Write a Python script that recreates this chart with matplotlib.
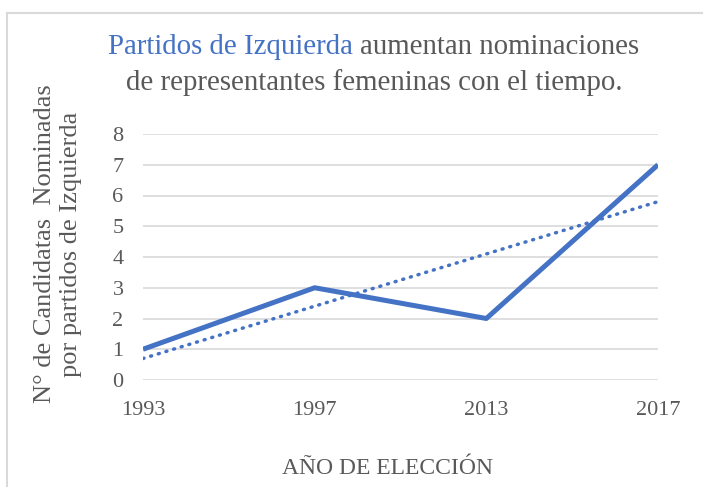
import matplotlib.pyplot as plt
from matplotlib.lines import Line2D

years = ["1993", "1997", "2013", "2017"]
candidatas = [1, 3, 2, 7]
# linear trendline (start and end values)
trend_start = 0.7
trend_end = 5.8

blue = "#4472C4"
grey = "#595959"
W, H = 703, 487

plt.rcParams['font.family'] = ['Liberation Serif', 'DejaVu Serif']

fig = plt.figure(figsize=(W / 100, H / 100), dpi=100)
ax = fig.add_axes([143 / W, 1 - 380 / H, (658 - 143) / W, (380 - 134) / H])

x = list(range(len(years)))
ax.plot(x, candidatas, color=blue, linewidth=3.6, solid_capstyle="butt", zorder=3)
ax.plot([x[0], x[-1]], [trend_start, trend_end], color=blue, linewidth=2.5,
        linestyle=(0, (0.3, 2.0)), dash_capstyle="round", zorder=3)

ax.set_xlim(0, 3)
ax.set_ylim(0, 8)
ax.set_yticks(range(0, 9))
ax.set_xticks(x)
ax.set_xticklabels(years)
ax.grid(axis="y", color="#D9D9D9", linewidth=1.2)
ax.set_axisbelow(True)
for s in ax.spines.values():
    s.set_visible(False)
ax.tick_params(length=0, labelsize=16, colors=grey)
ax.tick_params(axis="y", pad=14)
ax.tick_params(axis="x", pad=15)

fig.text(388 / W, 1 - 469 / H, "AÑO DE ELECCIÓN", fontsize=17, color=grey,
         ha="center", va="center")
fig.text(58 / W, 1 - 244 / H, "N° de Candidatas  Nominadas\npor partidos de Izquierda",
         rotation=90, ha="center", va="center", fontsize=19, color=grey,
         linespacing=1.22)

# title with the first words in blue, centred as one line
fs = 20.8
t1 = fig.text(0, 1 - 47 / H, "Partidos de Izquierda ", fontsize=fs,
              color=blue, ha="left", va="center")
t2 = fig.text(0, 1 - 47 / H, "aumentan nominaciones", fontsize=fs,
              color=grey, ha="left", va="center")
fig.canvas.draw()
w1 = t1.get_window_extent().width
w2 = t2.get_window_extent().width
left = 374 - (w1 + w2) / 2
t1.set_x(left / W)
t2.set_x((left + w1) / W)
fig.text(374 / W, 1 - 83 / H, "de representantes femeninas con el tiempo.",
         fontsize=fs, color=grey, ha="center", va="center")

# chart border (left and top edges visible)
fig.add_artist(Line2D([7 / W, 7 / W], [0, 1 - 13 / H], color="#D9D9D9", linewidth=1.5))
fig.add_artist(Line2D([7 / W, 1], [1 - 13 / H, 1 - 13 / H], color="#D9D9D9", linewidth=1.5))

fig.savefig("out.png", dpi=100)
